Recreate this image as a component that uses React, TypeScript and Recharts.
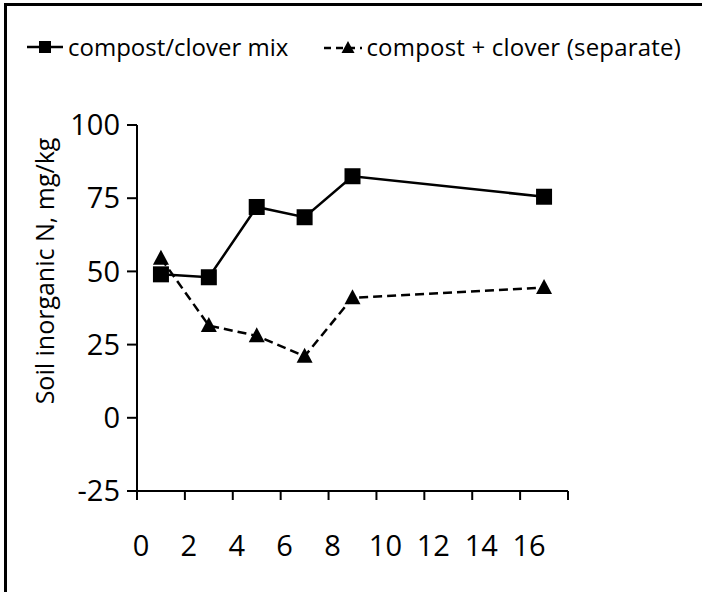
import React from 'react';
import { LineChart, Line, XAxis, YAxis, Legend } from 'recharts';

const days = [1, 3, 5, 7, 9, 17];
const mixValues = [49, 48, 72, 68.5, 82.5, 75.5];
const separateValues = [54.5, 31.5, 28, 21, 41, 44.5];
const xTicks = [0, 2, 4, 6, 8, 10, 12, 14, 16, 18];
const xTickLabels = ['0', '2', '4', '6', '8', '10', '12', '14', '16', ''];
const yTicks = [-25, 0, 25, 50, 75, 100];
const seriesNames = ['compost/clover mix', 'compost + clover (separate)'];
const yLabel = 'Soil inorganic N, mg/kg';

const data = days.map((d, i) => ({ day: d, mix: mixValues[i], separate: separateValues[i] }));

const FONT = '"Open Sans", sans-serif';

const SquareDot = (props: any) => {
  const { cx, cy, index } = props;
  if (cx == null || cy == null) return <g key={`sq-${index}`} />;
  return <rect key={`sq-${index}`} x={cx - 8} y={cy - 8} width={16} height={16} fill="#000" />;
};

const TriangleDot = (props: any) => {
  const { cx, cy, index } = props;
  if (cx == null || cy == null) return <g key={`tr-${index}`} />;
  return (
    <polygon
      key={`tr-${index}`}
      points={`${cx},${cy - 8.5} ${cx - 8},${cy + 6.5} ${cx + 8},${cy + 6.5}`}
      fill="#000"
    />
  );
};

const XTick = (props: any) => {
  const { x, y, payload } = props;
  const idx = xTicks.indexOf(payload.value);
  const label = idx >= 0 ? xTickLabels[idx] : String(payload.value);
  const dx = label.length > 1 ? 9 : 4;
  return (
    <text x={x + dx} y={y} dy="0.71em" textAnchor="middle" fill="#000" fontSize={29} fontFamily={FONT}>
      {label}
    </text>
  );
};

const LegendContent = () => (
  <div style={{ display: 'flex', alignItems: 'center', fontFamily: FONT, fontSize: 24, color: '#000', whiteSpace: 'nowrap' }}>
    <svg width={36} height={20} style={{ display: 'block' }}>
      <line x1={0} y1={10} x2={36} y2={10} stroke="#000" strokeWidth={2.5} />
      <rect x={12} y={4} width={12} height={12} fill="#000" />
    </svg>
    <span style={{ marginLeft: 5 }}>{seriesNames[0]}</span>
    <svg width={38} height={20} style={{ display: 'block', marginLeft: 36 }}>
      <line x1={0} y1={11} x2={38} y2={11} stroke="#000" strokeWidth={2.5} strokeDasharray="7 5" />
      <polygon points="24,4 17.5,16 30.5,16" fill="#000" />
    </svg>
    <span style={{ marginLeft: 4, letterSpacing: 0.2 }}>{seriesNames[1]}</span>
  </div>
);

const YLabel = (props: any) => {
  const { viewBox } = props;
  const cx = viewBox.x + 44;
  const cy = viewBox.y + viewBox.height / 2 - 37;
  return (
    <text
      x={cx}
      y={cy}
      transform={`rotate(-90, ${cx}, ${cy})`}
      textAnchor="middle"
      dominantBaseline="central"
      fill="#000"
      fontSize={25}
      fontFamily={FONT}
    >
      {yLabel}
    </text>
  );
};

export default function App() {
  return (
    <div style={{ position: 'absolute', left: 0, top: 0, width: 702, height: 592, overflow: 'hidden', background: '#fff' }}>
      <div
        style={{
          position: 'absolute',
          left: 4,
          top: 3,
          width: 800,
          height: 700,
          borderLeft: '3px solid #000',
          borderTop: '3px solid #000',
        }}
      />
      <div style={{ position: 'absolute', left: 0, top: 0 }}>
        <LineChart width={702} height={592} data={data} margin={{ top: 125, right: 134, bottom: 31, left: 0 }}>
          <XAxis
            type="number"
            dataKey="day"
            domain={[0, 18]}
            ticks={xTicks}
            interval={0}
            tickSize={9}
            tickMargin={35}
            height={70}
            axisLine={{ stroke: '#000', strokeWidth: 2 }}
            tickLine={{ stroke: '#000', strokeWidth: 2 }}
            tick={<XTick />}
          />
          <YAxis
            type="number"
            domain={[-25, 100]}
            ticks={yTicks}
            interval={0}
            width={137}
            tickSize={10}
            tickMargin={7}
            axisLine={{ stroke: '#000', strokeWidth: 2 }}
            tickLine={{ stroke: '#000', strokeWidth: 2 }}
            tick={{ fill: '#000', fontSize: 29, fontFamily: FONT }}
            label={<YLabel />}
          />
          <Legend
            layout="vertical"
            align="center"
            verticalAlign="middle"
            content={<LegendContent />}
            wrapperStyle={{ position: 'absolute', top: 30, left: 27, width: 'auto' }}
          />
          <Line
            dataKey="mix"
            name={seriesNames[0]}
            stroke="#000"
            strokeWidth={2.5}
            dot={SquareDot}
            activeDot={false}
            isAnimationActive={false}
          />
          <Line
            dataKey="separate"
            name={seriesNames[1]}
            stroke="#000"
            strokeWidth={2.5}
            strokeDasharray="9 5"
            dot={TriangleDot}
            activeDot={false}
            isAnimationActive={false}
          />
        </LineChart>
      </div>
    </div>
  );
}
